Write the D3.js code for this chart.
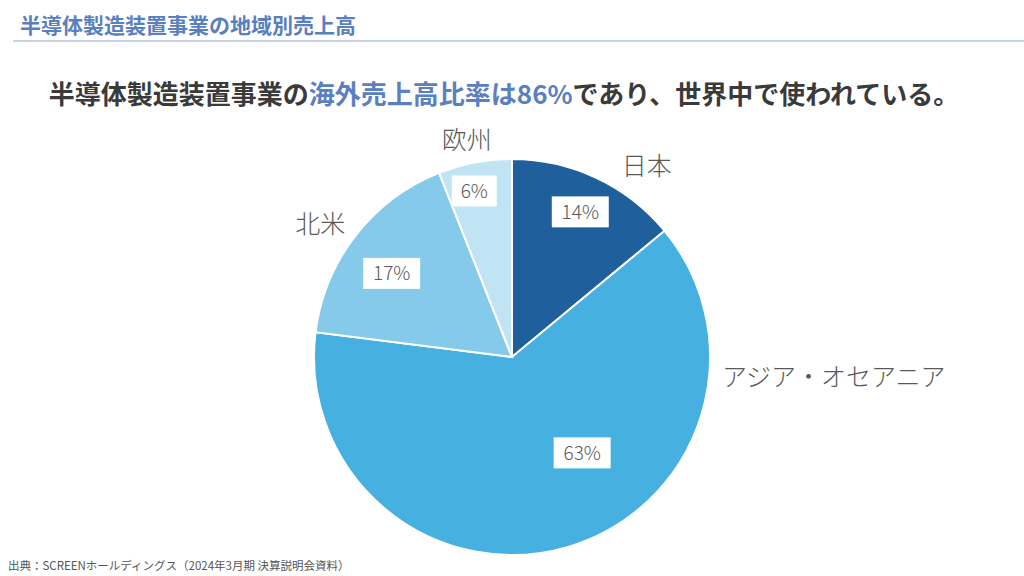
<!DOCTYPE html>
<html>
<head>
<meta charset="utf-8">
<script src="https://cdn.jsdelivr.net/npm/d3@7"></script>
<style>
  body { margin: 0; background: #fff; }
  svg { display: block; font-family: "Noto Sans CJK JP", "Noto Sans", sans-serif; }
</style>
</head>
<body>
<svg id="chart" width="1024" height="576"></svg>
<script>
// data
const regions = ["日本", "アジア・オセアニア", "北米", "欧州"];
const shares = [14, 63, 17, 6];
const colors = ["#1f5f9b", "#46b0e1", "#85caeb", "#c1e4f5"];

// label placement: angle shift (deg) from slice middle, radius factor
const inLabel = { "日本": [0, 0.81], "アジア・オセアニア": [-20, 0.6], "北米": [-3, 0.74], "欧州": [-2, 0.86] };
const outLabel = { "日本": [10, 1.18, "middle"], "アジア・オセアニア": [-68.4, 1.065, "start"], "北米": [-3, 1.18, "middle"], "欧州": [-1, 1.12, "middle"] };

const svg = d3.select("#chart");
const cx = 512, cy = 357, r = 198;

// page title + rule
svg.append("text")
  .attr("x", 20).attr("y", 33)
  .attr("font-size", 21).attr("font-weight", 700)
  .attr("fill", "#5a7fbe")
  .text("半導体製造装置事業の地域別売上高");
svg.append("line")
  .attr("x1", 13).attr("x2", 1024).attr("y1", 41).attr("y2", 41)
  .attr("stroke", "#8fa9d2").attr("stroke-width", 1.2);

// headline
const head = svg.append("text")
  .attr("x", 504).attr("y", 104)
  .attr("text-anchor", "middle")
  .attr("font-size", 26).attr("font-weight", 700)
  .attr("fill", "#3a3a3a");
head.append("tspan").text("半導体製造装置事業の");
head.append("tspan").attr("fill", "#5a80c0").text("海外売上高比率は86%");
head.append("tspan").text("であり、世界中で使われている。");

// footer
svg.append("text")
  .attr("x", 8).attr("y", 570)
  .attr("font-size", 11.5).attr("fill", "#555")
  .text("出典：SCREENホールディングス（2024年3月期 決算説明会資料）");

const pie = d3.pie().sort(null).value(d => d.v);
const arcs = pie(regions.map((k, i) => ({ k, v: shares[i], c: colors[i] })));
const arc = d3.arc().innerRadius(0).outerRadius(r);

const g = svg.append("g").attr("transform", `translate(${cx},${cy})`);

g.selectAll("path.slice")
  .data(arcs)
  .join("path")
  .attr("class", "slice")
  .attr("d", arc)
  .attr("fill", d => d.data.c)
  .attr("stroke", "#fff")
  .attr("stroke-width", 2);

function polar(d, cfg) {
  const a = (d.startAngle + d.endAngle) / 2 + cfg[0] * Math.PI / 180;
  return [Math.sin(a) * r * cfg[1], -Math.cos(a) * r * cfg[1]];
}

// percentage boxes
const pct = g.selectAll("g.pct")
  .data(arcs)
  .join("g")
  .attr("class", "pct")
  .attr("transform", d => `translate(${polar(d, inLabel[d.data.k])})`);

pct.append("text")
  .attr("text-anchor", "middle")
  .attr("dy", "0.36em")
  .attr("font-size", 19).attr("font-weight", 300)
  .attr("fill", "#595959")
  .text(d => d.data.v + "%")
  .each(function () {
    const b = this.getBBox();
    d3.select(this.parentNode).insert("rect", "text")
      .attr("x", -28.5).attr("y", -15.5)
      .attr("width", b.width < 30 ? 45 : 57).attr("height", 31)
      .attr("transform", b.width < 30 ? "translate(6,0)" : null)
      .attr("fill", "#fff");
  });

// category names
g.selectAll("text.cat")
  .data(arcs)
  .join("text")
  .attr("class", "cat")
  .attr("transform", d => `translate(${polar(d, outLabel[d.data.k])})`)
  .attr("text-anchor", d => outLabel[d.data.k][2])
  .attr("dy", "0.36em")
  .attr("font-size", 25).attr("font-weight", 300)
  .attr("fill", "#595959")
  .text(d => d.data.k);
</script>
</body>
</html>
